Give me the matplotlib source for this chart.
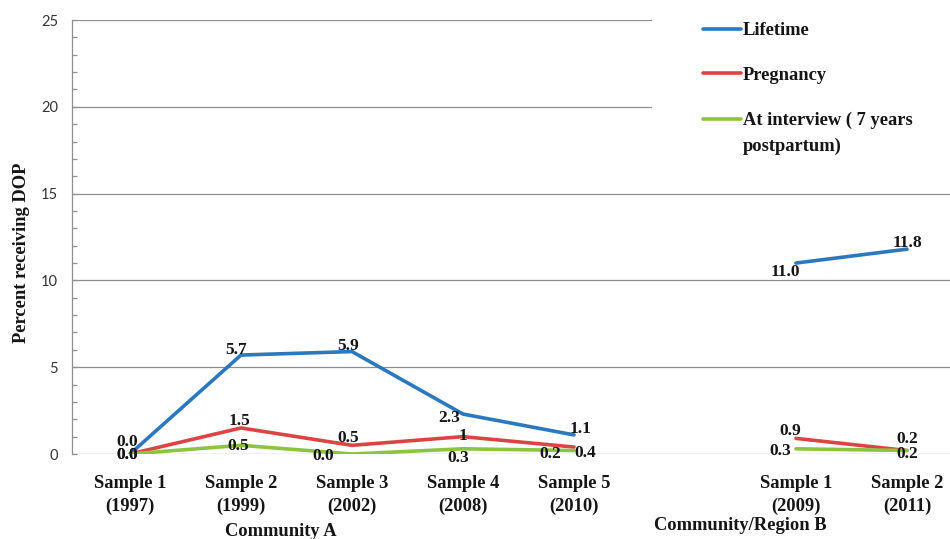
import matplotlib
matplotlib.use("Agg")
import matplotlib.pyplot as plt
from matplotlib.patches import Rectangle

# ---- data -------------------------------------------------------------
categories = ["Sample 1\n(1997)", "Sample 2\n(1999)", "Sample 3\n(2002)",
              "Sample 4\n(2008)", "Sample 5\n(2010)", "",
              "Sample 1\n(2009)", "Sample 2\n(2011)"]
group_a_idx = [0, 1, 2, 3, 4]
group_b_idx = [6, 7]
group_names = ["Community A", "Community/Region B"]

series_names = ["Lifetime", "Pregnancy", "At interview ( 7 years\npostpartum)"]
lifetime_a = [0.0, 5.7, 5.9, 2.3, 1.1]
lifetime_b = [11.0, 11.8]
pregnancy_a = [0.0, 1.5, 0.5, 1.0, 0.4]
pregnancy_b = [0.9, 0.2]
interview_a = [0.0, 0.5, 0.0, 0.3, 0.2]
interview_b = [0.3, 0.2]

# decimals shown in the value labels
pregnancy_a_decimals = [1, 1, 1, 0, 1]

yticks = [0, 5, 10, 15, 20, 25]

# ---- styling ----------------------------------------------------------
SERIF = "Liberation Serif"
colors = ["#2a78bd", "#dc4444", "#8dc43f"]
grid_c = "#8f8f8f"
text_c = "#151515"
lw = 2.6

# label offsets in pixels (dx, dy) for each point
off_life_a = [(-3, 12), (-5, 5), (-4, 6), (-14, -4), (7, 6)]
off_life_b = [(-11, -9), (0, 6)]
off_preg_a = [(-3, -1), (-2, 7), (-4, 7), (0, 1), (11, -6)]
off_preg_b = [(-6, 7), (0, 12)]
off_int_a = [(-3, -1), (-3, -1), (-29, -2), (-5, -9), (-24, -3)]
off_int_b = [(-16, -2), (0, -3)]

W, H, DPI = 950, 539, 100
fig = plt.figure(figsize=(W / DPI, H / DPI), dpi=DPI)

ax_left, ax_bot, ax_top, ax_right = 72, 454, 20, 950
ax = fig.add_axes([ax_left / W, 1 - ax_bot / H,
                   (ax_right - ax_left) / W, (ax_bot - ax_top) / H])

# category spacing ~111 px; first category at x=130 px
step = 111.0
xmin = -(130 - ax_left) / step
xmax = 7 + (ax_right - 907) / step
ax.set_xlim(xmin, xmax)
ax.set_ylim(0, 25)

# grid & spines
ax.set_yticks(yticks)
ax.set_yticks(range(0, 26), minor=True)
ax.yaxis.grid(True, which="major", color=grid_c, lw=0.9, zorder=0)
ax.set_axisbelow(True)
for s in ["top", "right", "bottom"]:
    ax.spines[s].set_visible(False)
ax.spines["left"].set_color(grid_c)
ax.spines["left"].set_linewidth(0.9)
ax.tick_params(axis="y", which="both", direction="in", length=3.5,
               color=grid_c, width=0.9, pad=10)
ax.tick_params(axis="y", which="major", labelsize=10.5, labelcolor="#333333")
for t in ax.get_yticklabels():
    t.set_fontfamily("Lato")

ax.set_xticks(range(len(categories)))
ax.set_xticklabels(categories, fontfamily=SERIF, fontweight="bold",
                   fontsize=13.3, color=text_c, linespacing=1.45)
ax.tick_params(axis="x", length=0, pad=15)

ax.set_ylabel("Percent receiving DOP", fontfamily=SERIF, fontweight="bold",
              fontsize=13.3, color=text_c)
ax.yaxis.set_label_coords((30 - ax_left) / (ax_right - ax_left),
                          (ax_bot - 253) / (ax_bot - ax_top))


def draw(idx, vals, color, offsets, decimals=None, label=None):
    ax.plot(idx, vals, color=color, lw=lw, solid_capstyle="round",
            solid_joinstyle="round", zorder=3, label=label)
    for k, (x, v) in enumerate(zip(idx, vals)):
        d = 1 if decimals is None else decimals[k]
        dx, dy = offsets[k]
        ax.annotate(f"{v:.{d}f}", (x, v), xytext=(dx * 72 / DPI, dy * 72 / DPI),
                    textcoords="offset points", ha="center", va="center",
                    fontfamily=SERIF, fontweight="bold", fontsize=12.5,
                    color=text_c, zorder=4)


draw(group_a_idx, lifetime_a, colors[0], off_life_a, label=series_names[0])
draw(group_b_idx, lifetime_b, colors[0], off_life_b)
draw(group_a_idx, pregnancy_a, colors[1], off_preg_a, pregnancy_a_decimals,
     label=series_names[1])
draw(group_b_idx, pregnancy_b, colors[1], off_preg_b)
draw(group_a_idx, interview_a, colors[2], off_int_a, label=series_names[2])
draw(group_b_idx, interview_b, colors[2], off_int_b)

# group captions under the category labels
for name, xpx, ypx in [(group_names[0], 281, 531), (group_names[1], 740, 526)]:
    fig.text(xpx / W, 1 - ypx / H, name, ha="center", va="center",
             fontfamily=SERIF, fontweight="bold", fontsize=13.3, color=text_c)

# white legend area hides the upper gridlines on the right
ax.add_patch(Rectangle((652 / W, 1 - 182 / H), 1, 1, transform=fig.transFigure,
                       facecolor="white", edgecolor="none", zorder=2.5,
                       clip_on=False))

leg = ax.legend(loc="upper left", bbox_to_anchor=(703 / W, 1 - 22 / H),
                bbox_transform=fig.transFigure, frameon=False, borderpad=0,
                borderaxespad=0, handlelength=2.05, handletextpad=0.1,
                labelspacing=1.5,
                prop={"family": SERIF, "weight": "bold", "size": 13.3})
leg.set_zorder(5)
for t in leg.get_texts():
    t.set_color(text_c)
    t.set_linespacing(1.7)
legend_lines = leg.get_lines()
for h in legend_lines:
    h.set_linewidth(lw)
# keep the two-line entry's swatch level with its first line
y = legend_lines[2].get_ydata()
legend_lines[2].set_ydata([v + 10.7 for v in y])

fig.savefig("out.png", dpi=DPI)
